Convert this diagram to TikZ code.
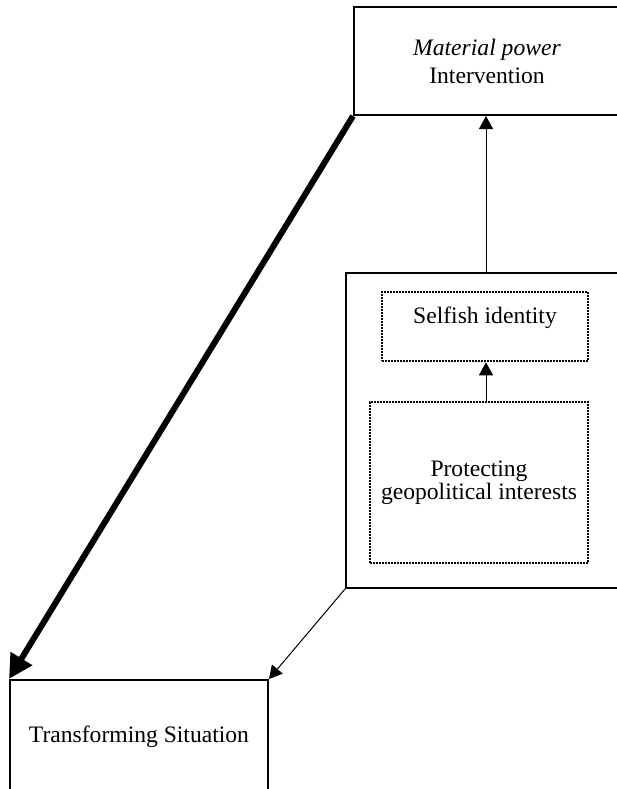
\documentclass[tikz,border=0pt]{standalone}
\usepackage{fontspec}
\setmainfont{Liberation Serif}
\usetikzlibrary{arrows.meta}
\begin{document}
\begin{tikzpicture}[x=0.5pt,y=-0.5pt,
  every node/.style={font=\fontsize{11.8}{14}\selectfont, align=center},
  box/.style={draw, line width=1pt, inner sep=0pt},
  dotbox/.style={draw, line width=1.3pt, dash pattern=on 0.8pt off 0.7pt, inner sep=0pt},
  thin/.style={line width=0.5pt, -{Triangle[length=6.5pt,width=7pt]}},
  heavy/.style={line width=3pt, -{Triangle[length=12pt,width=12pt]}}]
  \useasboundingbox (0,0) rectangle (617,789);
  \clip (0,0) rectangle (617,789);

  % main boxes
  \node[box, minimum width=133pt, minimum height=54pt] (mp) at (487,61)
    {\textit{Material power}\\Intervention};
  \node[box, minimum width=140pt, minimum height=157.5pt] (ctx) at (486,430.5) {};
  \node[box, minimum width=129pt, minimum height=57pt] (ts) at (139,737)
    {Transforming Situation};

  % dotted inner boxes
  \node[dotbox, minimum width=103pt, minimum height=34.5pt, text depth=11pt] (si) at (485,326.5)
    {Selfish identity};
  \node[dotbox, minimum width=109pt, minimum height=80.5pt] (pg) at (479,482.5)
    {Protecting\\[-2.5pt]geopolitical interests};

  % connectors
  \draw[heavy] (mp.south west) -- (ts.north west);
  \draw[thin] (ctx.south west) -- (ts.north east);
  \draw[thin] (ctx.north) -- (ctx.north |- mp.south);
  \draw[thin] (ctx.north |- pg.north) -- (ctx.north |- si.south);
\end{tikzpicture}
\end{document}
